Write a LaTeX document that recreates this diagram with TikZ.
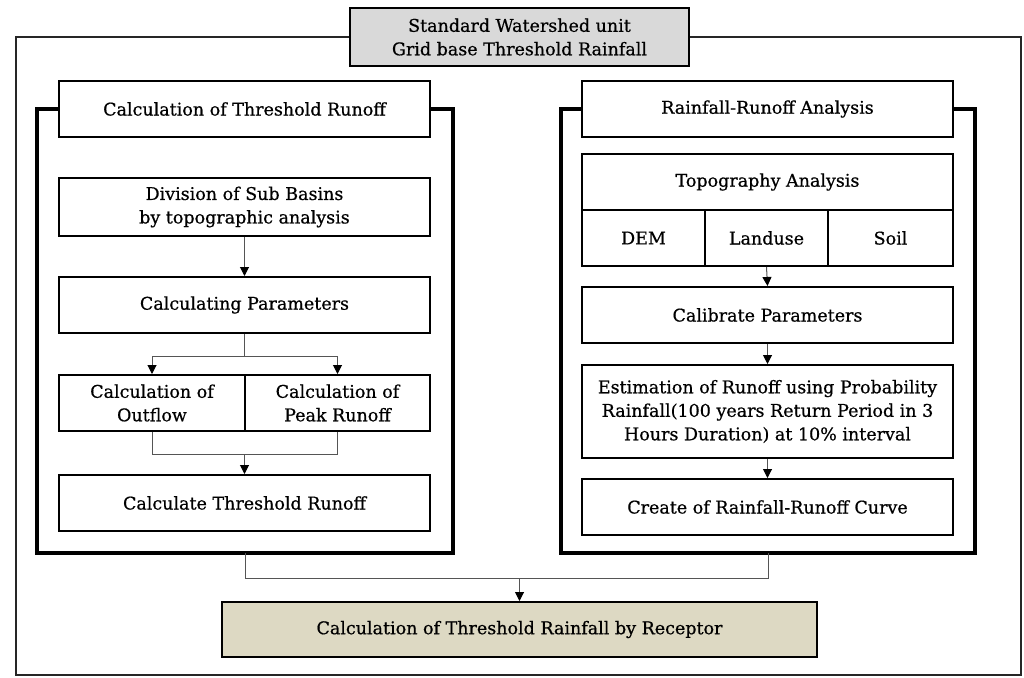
\documentclass[tikz,border=0pt]{standalone}
\usepackage{fontspec}
\setmainfont{DejaVu Serif}
\usetikzlibrary{arrows.meta}
\definecolor{titlegray}{HTML}{D9D9D9}
\definecolor{beige}{HTML}{DDD9C3}
\definecolor{conn}{HTML}{555555}
\begin{document}
\begin{tikzpicture}[x=1pt,y=-1pt,
  box/.style={draw=black, line width=2pt, fill=white, inner sep=0pt, align=center,
    font=\fontsize{17.5}{23.5}\selectfont\addfontfeature{FakeBold=0.6}},
  panel/.style={draw=black, line width=3.5pt, line join=miter},
  link/.style={draw=conn, line width=1pt},
  arr/.style={link, -{Triangle[length=9pt,width=9pt,color=black]}}]
\useasboundingbox (0,0) rectangle (1024,677);
% outer frame
\draw[line width=1.5pt, draw=black!85] (16,37) rectangle (1021,675);
% title
\node[box, fill=titlegray, minimum width=339pt, minimum height=58pt] (title) at (519.5,37)
  {Standard Watershed unit\\Grid base Threshold Rainfall};
% left panel
\node[box, minimum width=371pt, minimum height=56pt] (lhead) at (244.5,109) {Calculation of Threshold Runoff};
\draw[panel] (lhead.west) -- (37,109) -- (37,553) -- (453,553) -- (453,109) -- (lhead.east);
\node[box, minimum width=371pt, minimum height=58pt] (div) at (244.5,207) {Division of Sub Basins\\by topographic analysis};
\node[box, minimum width=371pt, minimum height=56pt] (par) at (244.5,305) {Calculating Parameters};
\node[box, minimum width=186pt, minimum height=56pt] (out) at (152,403) {Calculation of\\Outflow};
\node[box, minimum width=185pt, minimum height=56pt] (peak) at (337.5,403) {Calculation of\\Peak Runoff};
\node[box, minimum width=371pt, minimum height=56pt] (thr) at (244.5,503) {Calculate Threshold Runoff};
% right panel
\node[box, minimum width=371pt, minimum height=56pt] (rhead) at (767.5,109) {Rainfall-Runoff Analysis};
\draw[panel] (rhead.west) -- (561,109) -- (561,553) -- (975,553) -- (975,109) -- (rhead.east);
\node[box, minimum width=371pt, minimum height=56pt] (topo) at (767.5,182) {Topography Analysis};
\node[box, minimum width=123pt, minimum height=56pt] (dem) at (643.5,238) {DEM};
\node[box, minimum width=123pt, minimum height=56pt] (land) at (766.5,238) {Landuse};
\node[box, minimum width=125pt, minimum height=56pt] (soil) at (890.5,238) {Soil};
\node[box, minimum width=371pt, minimum height=56pt] (cal) at (767.5,315) {Calibrate Parameters};
\node[box, minimum width=371pt, minimum height=93pt] (est) at (767.5,411.5)
  {Estimation of Runoff using Probability\\Rainfall(100 years Return Period in 3\\Hours Duration) at 10\% interval};
\node[box, minimum width=371pt, minimum height=56pt] (curve) at (767.5,507) {Create of Rainfall-Runoff Curve};
% bottom
\node[box, fill=beige, minimum width=595pt, minimum height=55pt] (bot) at (519.5,629.5)
  {Calculation of Threshold Rainfall by Receptor};
% connectors left
\draw[arr] (div.south) -- (par.north);
\draw[link] (par.south) -- ++(0,22) coordinate (split);
\draw[arr] (split) -| (out.north);
\draw[arr] (split) -| (peak.north);
\draw[link] (out.south) -- ++(0,22) coordinate (merge) -| (peak.south);
\draw[arr] (merge -| thr.north) -- (thr.north);
% connectors right
\draw[arr] (land.south) -- (cal.north);
\draw[arr] (cal.south) -- (est.north);
\draw[arr] (est.south) -- (curve.north);
% bottom connectors
\coordinate (lpb) at (245,553);
\coordinate (rpb) at (768,553);
\draw[link] (lpb) -- (245,578) coordinate (jl) -- (768,578) -- (rpb);
\draw[arr] (jl -| bot.north) -- (bot.north);
\end{tikzpicture}
\end{document}
